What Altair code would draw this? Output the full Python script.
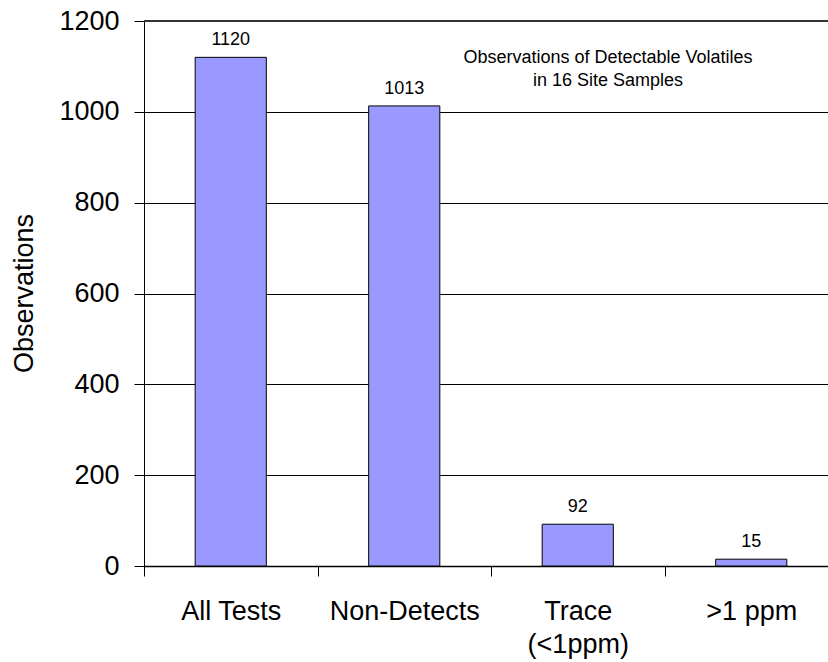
import altair as alt
import pandas as pd

# Observation counts per result category
categories = ["All Tests", "Non-Detects", "Trace\n(<1ppm)", ">1 ppm"]
observations = [1120, 1013, 92, 15]
y_ticks = [0, 200, 400, 600, 800, 1000, 1200]

df = pd.DataFrame({"category": categories, "observations": observations})

FONT = "Liberation Sans"

x_enc = alt.X(
    "category:N",
    sort=categories,
    title=None,
    scale=alt.Scale(paddingInner=0, paddingOuter=0, range=[0, 694]),
    axis=alt.Axis(
        tickBand="extent",
        labelAngle=0,
        labelFont=FONT,
        labelFontSize=27,
        labelColor="black",
        labelPadding=22,
        labelLineHeight=33,
        labelExpr="split(datum.label, '\\n')",
        tickSize=10,
        tickColor="black",
        domainColor="black",
        domainWidth=1.5,
        grid=False,
    ),
)

y_enc = alt.Y(
    "observations:Q",
    title="Observations",
    scale=alt.Scale(domain=[0, 1200], nice=False),
    axis=alt.Axis(
        values=y_ticks,
        format="d",
        labelFont=FONT,
        labelFontSize=27,
        labelColor="black",
        labelPadding=15,
        tickSize=10,
        tickColor="black",
        domainColor="black",
        grid=True,
        gridColor="black",
        gridWidth=1,
        titleFont=FONT,
        titleFontSize=27,
        titleFontWeight="normal",
        titleColor="black",
        titleAngle=-90,
        titleAlign="center",
        titleBaseline="middle",
        titleX=-120,
        titleY=272,
    ),
)

base = alt.Chart(df)

bars = base.mark_bar(
    color="#9999FF", stroke="black", strokeWidth=1, width=alt.RelativeBandSize(0.41)
).encode(x=x_enc, y=y_enc)

labels = base.mark_text(
    font=FONT, fontSize=18, color="black", baseline="alphabetic", dy=-12
).encode(
    x=alt.X("category:N", sort=categories),
    y=alt.Y("observations:Q"),
    text=alt.Text("observations:Q"),
)

top_rule = alt.Chart().mark_rule(color="#333333", strokeWidth=2).encode(
    y=alt.datum(1200)
)

note = alt.Chart().mark_text(
    font=FONT, fontSize=18, color="black", align="center",
    baseline="alphabetic", lineHeight=23,
).encode(
    x=alt.value(464),
    y=alt.value(42),
    text=alt.value(["Observations of Detectable Volatiles", "in 16 Site Samples"]),
)

chart = (
    alt.layer(bars, labels, top_rule, note)
    .properties(
        width=684,
        height=545,
        autosize=alt.AutoSizeParams(type="none"),
        padding={"left": 144, "top": 21, "right": 0, "bottom": 96},
        background="white",
    )
    .configure_view(stroke=None)
)

chart.save("out.html", embed_options={"renderer": "svg", "actions": False})
